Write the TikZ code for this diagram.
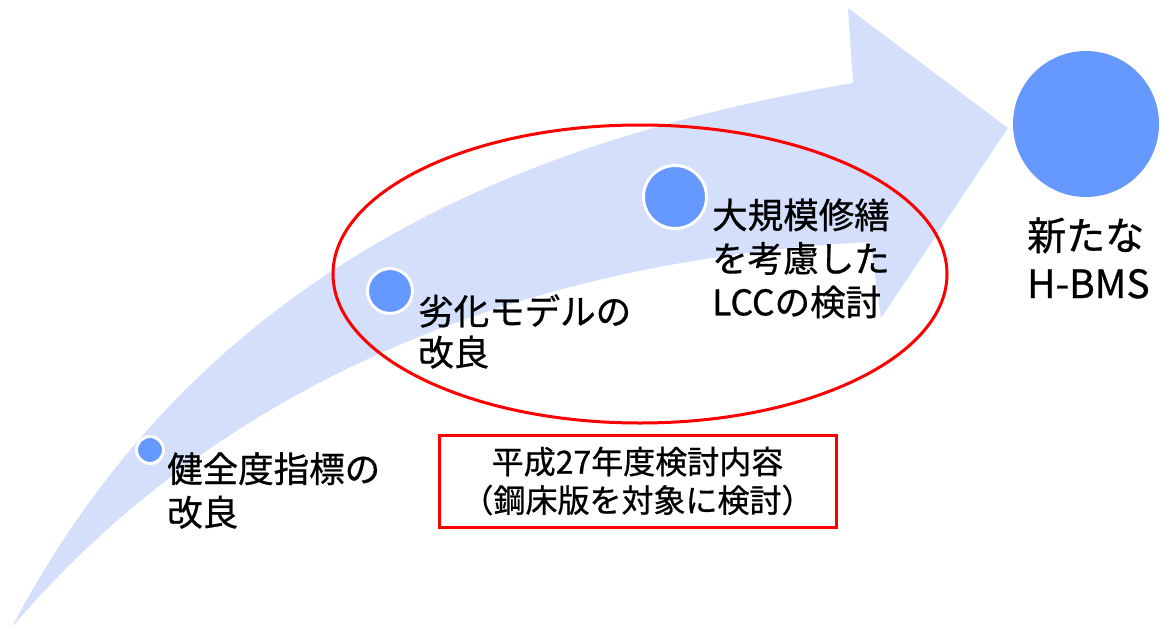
\documentclass[tikz,border=0pt]{standalone}
\usepackage{fontspec}
\newfontfamily\jpfont{Noto Sans CJK JP}[FakeBold=0.8]
\usetikzlibrary{shapes.geometric}
\definecolor{arrowblue}{RGB}{211,223,251}
\definecolor{dotblue}{RGB}{102,153,255}
\definecolor{markred}{RGB}{255,0,0}
\tikzset{
  dotnode/.style={circle, fill=dotblue, draw=white, line width=3pt, inner sep=0pt},
  lbl/.style={font=\jpfont\fontsize{35.5}{43.5}\selectfont, align=left, inner sep=0pt, anchor=west},
}
\begin{document}
\begin{tikzpicture}[x=1pt,y=-1pt]
\useasboundingbox (0,0) rectangle (1160,627);
% big arrow
\fill[arrowblue] (12,627) .. controls (200,270) and (520,140) .. (853,83)
  -- (848,8) -- (1008,128) -- (881,318) -- (870,242)
  .. controls (560,258) and (240,360) .. (12,627) -- cycle;
% red ellipse
\node[ellipse, draw=markred, line width=3pt, inner sep=0pt, minimum width=614, minimum height=298] (ell) at (640,274) {};
% dots
\node[dotnode, minimum size=27] (c1) at (150,450) {};
\node[dotnode, minimum size=45] (c2) at (390,291) {};
\node[dotnode, minimum size=63] (c3) at (675,197) {};
\node[circle, fill=dotblue, inner sep=0pt, minimum size=146] (c4) at (1086,124) {};
% labels
\node[lbl] (t1) at (167,490.5) {健全度指標の\\改良};
\node[lbl, font=\jpfont\fontsize{35.5}{41}\selectfont] (t2) at (418,331.5) {劣化モデルの\\改良};
\node[lbl] (t3) at (712,258.5) {大規模修繕\\を考慮した\\LCCの検討};
\node[lbl, font=\jpfont\fontsize{39}{48}\selectfont] (t4) at (1027,258) {新たな\\H-BMS};
% box
\node[draw=markred, line width=3pt, minimum width=397, minimum height=92, inner sep=0pt,
      align=center, font=\jpfont\fontsize{32}{38.5}\selectfont] (box) at (637.5,481)
      {平成27年度検討内容\\（鋼床版を対象に検討）};
\end{tikzpicture}
\end{document}
